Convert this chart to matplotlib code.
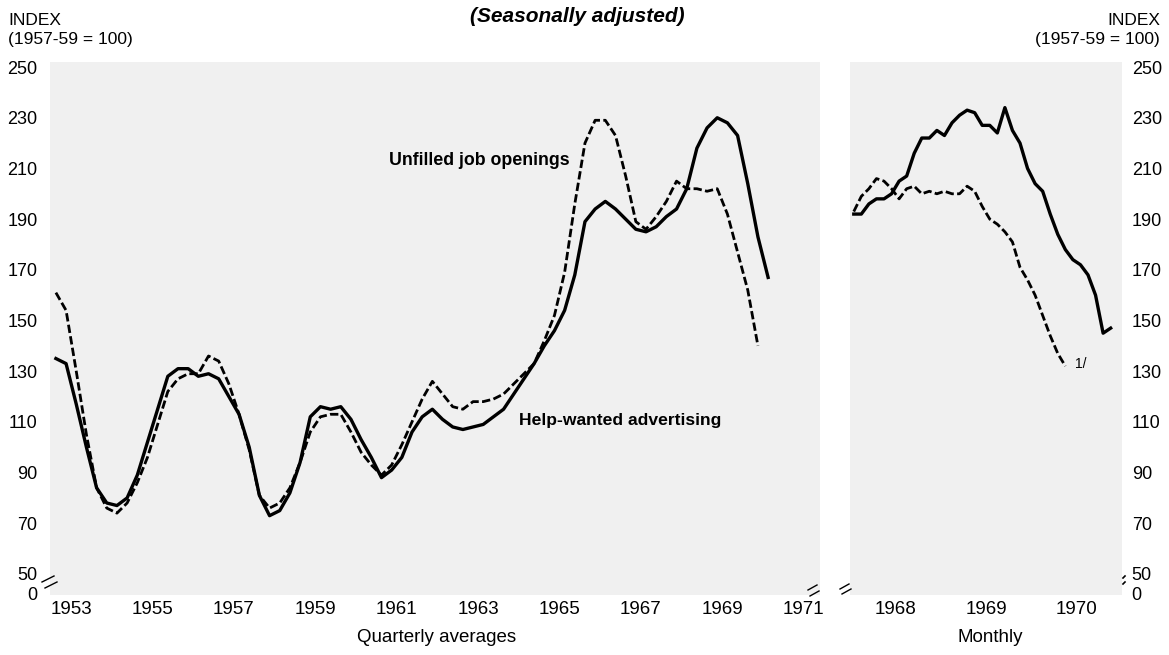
import numpy as np
import matplotlib
matplotlib.use("Agg")
import matplotlib.pyplot as plt

plt.rcParams['font.family'] = ['Liberation Sans', 'DejaVu Sans']

# quarterly averages, 1953 Q1 onward (index 1957-59 = 100)
help_wanted_q = [135, 133, 117, 100, 84, 78, 77, 80,
                 89, 102, 115, 128, 131, 131, 128, 129,
                 127, 120, 113, 100, 81, 73, 75, 82,
                 94, 112, 116, 115, 116, 111, 103, 96,
                 88, 91, 96, 106, 112, 115, 111, 108,
                 107, 108, 109, 112, 115, 121, 127, 133,
                 140, 146, 154, 168, 189, 194, 197, 194,
                 190, 186, 185, 187, 191, 194, 202, 218,
                 226, 230, 228, 223, 204, 183, 167]
unfilled_q = [161, 154, 130, 105, 84, 76, 74, 78,
              86, 96, 109, 122, 127, 129, 129, 136,
              134, 125, 113, 99, 81, 76, 78, 84,
              94, 106, 112, 113, 113, 106, 98, 93,
              89, 93, 101, 110, 119, 126, 121, 116,
              115, 118, 118, 119, 121, 125, 129, 133,
              142, 152, 169, 196, 220, 229, 229, 223,
              207, 189, 186, 191, 197, 205, 202, 202,
              201, 202, 192, 177, 162, 140]

# monthly, Jan 1968 onward
help_wanted_m = [192, 192, 196, 198, 198, 200, 205, 207, 216, 222, 222, 225,
                 223, 228, 231, 233, 232, 227, 227, 224, 234, 225, 220, 210,
                 204, 201, 192, 184, 178, 174, 172, 168, 160, 145, 147]
unfilled_m = [193, 199, 202, 206, 205, 202, 198, 202, 203, 200, 201, 200,
              201, 200, 200, 203, 201, 195, 190, 188, 185, 181, 171, 166,
              160, 152, 144, 137, 132]

left_years = [1953, 1955, 1957, 1959, 1961, 1963, 1965, 1967, 1969, 1971]
right_years = [1968, 1969, 1970]
y_ticks = [250, 230, 210, 190, 170, 150, 130, 110, 90, 70, 50]

tq_hw = 1953 + (np.arange(len(help_wanted_q)) + 0.5) / 4
tq_uf = 1953 + (np.arange(len(unfilled_q)) + 0.5) / 4
tm_hw = 1968 + (np.arange(len(help_wanted_m)) + 0.5) / 12
tm_uf = 1968 + (np.arange(len(unfilled_m)) + 0.5) / 12

W, H = 1169, 655
fig = plt.figure(figsize=(W / 100, H / 100), dpi=100)
ax1 = fig.add_axes([50 / W, 60 / H, 770 / W, 533 / H])
ax2 = fig.add_axes([850 / W, 60 / H, 272 / W, 533 / H])

shade = '#f0f0f0'
dash = (0, (3, 1.2))
for ax in (ax1, ax2):
    ax.set_facecolor(shade)
    for s in ax.spines.values():
        s.set_visible(False)
    ax.set_ylim(41.7, 252)
    ax.set_yticks(y_ticks + [42.2])
    ax.set_yticklabels([str(v) for v in y_ticks] + ['0'])
    ax.tick_params(length=0, labelsize=13, colors='black')
    ax.tick_params(axis='x', pad=4, labelsize=13.5)

ax1.plot(tq_hw, help_wanted_q, color='black', lw=2.4)
ax1.plot(tq_uf, unfilled_q, color='black', lw=2.0, linestyle=dash)
ax1.set_xlim(1952.98, 1971.9)
ax1.set_xticks([y + 0.5 for y in left_years])
ax1.set_xticklabels([str(y) for y in left_years])
ax1.tick_params(axis='y', pad=9)

ax2.plot(tm_hw, help_wanted_m, color='black', lw=2.4)
ax2.plot(tm_uf, unfilled_m, color='black', lw=2.0, linestyle=dash)
ax2.set_xlim(1968.0, 1971.0)
ax2.set_xticks([y + 0.5 for y in right_years])
ax2.set_xticklabels([str(y) for y in right_years])
ax2.yaxis.tick_right()
ax2.tick_params(axis='y', pad=7)
ax2.text(1970.55, 133, '1/', fontsize=10, ha='center', va='center')

ax1.text(1965.75, 213, 'Unfilled job openings', fontsize=12.8, fontweight='bold',
         ha='right', va='center')
ax1.text(1964.5, 110.5, 'Help-wanted advertising', fontsize=12.6, fontweight='bold',
         ha='left', va='center')

fig.text(8 / W, 1 - 13 / H, 'INDEX\n(1957-59 = 100)', fontsize=12.5, ha='left', va='top',
         linespacing=1.35)
fig.text(1160 / W, 1 - 13 / H, 'INDEX\n(1957-59 = 100)', fontsize=12.5, ha='right', va='top',
         linespacing=1.35, multialignment='right')
fig.text(577 / W, 1 - 17 / H, '(Seasonally adjusted)', fontsize=15, fontweight='bold',
         style='italic', ha='center', va='center')
fig.text(437 / W, 1 - 637 / H, 'Quarterly averages', fontsize=13.5, ha='center', va='center')
fig.text(990 / W, 1 - 637 / H, 'Monthly', fontsize=13.5, ha='center', va='center')

# axis break marks
for x0, y0 in [(42, 582), (45, 588)]:
    fig.add_artist(plt.Line2D([x0 / W, (x0 + 12) / W], [1 - y0 / H, 1 - (y0 - 6) / H],
                              color='black', lw=1))
for x0, y0 in [(808, 590), (810, 596), (840, 589), (842, 594)]:
    fig.add_artist(plt.Line2D([x0 / W, (x0 + 9) / W], [1 - y0 / H, 1 - (y0 - 5) / H],
                              color='black', lw=1))
for y0 in [578, 584]:
    fig.add_artist(plt.Line2D([1123 / W, 1125 / W], [1 - y0 / H, 1 - (y0 - 2) / H],
                              color='black', lw=1.2))

fig.savefig('out.png', dpi=100)
